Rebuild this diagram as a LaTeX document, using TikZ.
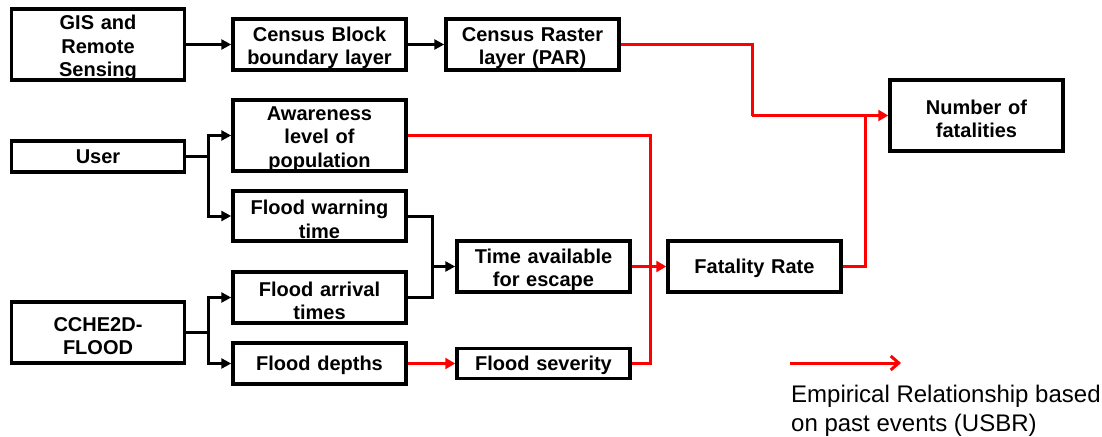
\documentclass[tikz,border=0pt]{standalone}
\usepackage{fontspec}
\setmainfont{Liberation Sans}
\usetikzlibrary{arrows.meta}
\definecolor{myred}{RGB}{255,0,0}
\newcommand{\boxtail}{\endgraf\vspace{-7pt}}
\begin{document}
\begin{tikzpicture}[x=1pt,y=-1pt,
  box/.style={draw, line width=3.5pt, inner sep=0pt, align=center, text width=172pt,
    minimum width=173pt, font=\fontsize{20}{23.5}\selectfont\bfseries,
    execute at end node=\boxtail},
  blk/.style={line width=3pt, -{Triangle[length=10pt,width=10pt]}},
  blkline/.style={line width=3pt},
  redl/.style={line width=3pt, draw=myred},
  reda/.style={line width=3pt, draw=myred, -{Triangle[length=10pt,width=11pt,fill=myred]}}]
\useasboundingbox (0,0) rectangle (1102,436);
% nodes
\node[box, minimum height=71pt] (gis) at (98,44.5) {GIS and\\Remote\\Sensing};
\node[box, minimum height=51pt] (cb) at (319.5,44.5) {Census Block\\boundary layer};
\node[box, minimum height=51pt] (cr) at (532.5,44.5) {Census Raster\\layer (PAR)};
\node[box, minimum height=71pt] (nf) at (976.5,115.5) {Number of\\fatalities};
\node[box, minimum height=31pt] (us) at (98,156.5) {User};
\node[box, minimum height=71pt] (aw) at (319.5,135.5) {Awareness\\level of\\population};
\node[box, minimum height=50pt] (fw) at (319.5,216) {Flood warning\\time};
\node[box, minimum height=51pt] (ta) at (543.5,266.5) {Time available\\for escape};
\node[box, minimum height=51pt] (fr) at (754.5,266.5) {Fatality Rate};
\node[box, minimum height=51pt] (fa) at (319.5,297.5) {Flood arrival\\times};
\node[box, minimum height=61pt] (cc) at (98,332.5) {CCHE2D-\\FLOOD};
\node[box, minimum height=41pt] (fd) at (319.5,363.5) {Flood depths};
\node[box, minimum height=30pt] (fs) at (543.5,363.5) {Flood severity};
% junction coordinates
\coordinate (j1) at (752,0);
\coordinate (j2) at (865,0);
\coordinate (j3) at (650,0);
\coordinate (j4) at (208,0);
\coordinate (j5) at (432,0);
% black connectors
\draw[blk] (gis) -- (cb);
\draw[blk] (cb) -- (cr);
\draw[blkline] (us.east) -- (us.east -| j4);
\draw[blk] (us.east -| j4) |- (aw.west);
\draw[blk] (us.east -| j4) |- (fw.west);
\draw[blkline] (fw.east) -- (fw.east -| j5) -- (fa.east -| j5) -- (fa.east);
\draw[blk] (ta.west -| j5) -- (ta.west);
\draw[blkline] (cc.east) -- (cc.east -| j4);
\draw[blk] (cc.east -| j4) |- (fa.west);
\draw[blk] (cc.east -| j4) |- (fd.west);
% red connectors
\draw[redl] (cr.east) -- (cr.east -| j1) -- (nf.west -| j1);
\draw[reda] (nf.west -| j1) -- (nf.west);
\draw[redl] (fr.east) -- (fr.east -| j2) -- (nf.west -| j2);
\draw[redl] (aw.east) -- (aw.east -| j3) -- (fs.east -| j3) -- (fs.east);
\draw[reda] (ta) -- (fr);
\draw[reda] (fd) -- (fs);
% legend
\coordinate (la) at (790,363);
\coordinate (lb) at (901,363);
\draw[line width=3pt, draw=myred, -{Straight Barb[length=8pt,width=14pt]}] (la) -- (lb);
\node[anchor=north west, inner sep=0pt, align=left, font=\fontsize{24}{29}\selectfont] (lt) at (791,385) {Empirical Relationship based\\on past events (USBR)};
\end{tikzpicture}
\end{document}
